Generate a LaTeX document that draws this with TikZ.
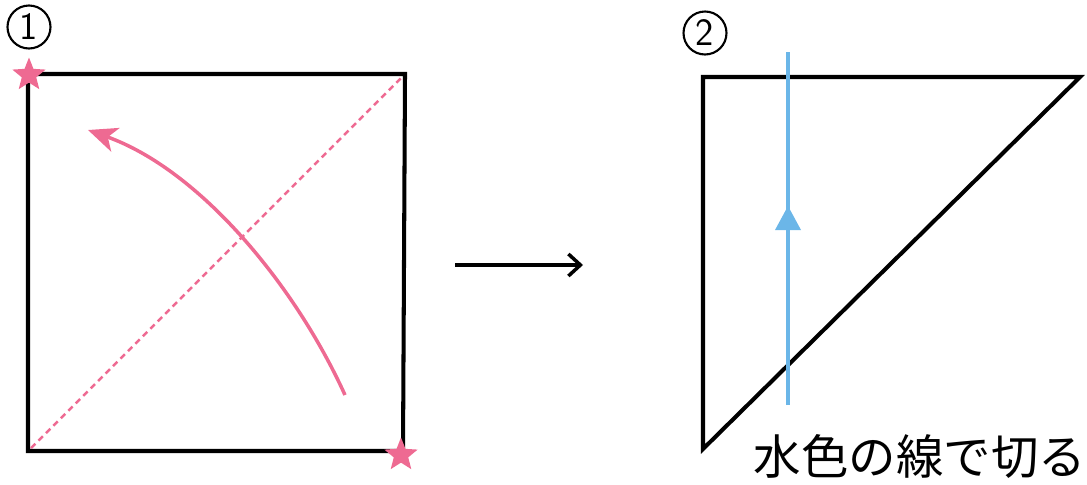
\documentclass[tikz,border=0pt]{standalone}
\usepackage{fontspec}
\newfontfamily\cjk{Noto Sans CJK JP}
\usetikzlibrary{arrows.meta,shapes.geometric}
\definecolor{pinkc}{HTML}{EE6A92}
\definecolor{bluec}{HTML}{6BB6E8}
\tikzset{
  edge/.style={line width=2.3pt, line join=miter},
  starmark/.style={star, star points=5, star point ratio=2.3, fill=pinkc, draw=none, minimum size=0.7cm, inner sep=0pt},
  circnum/.style={circle, draw, line width=1.2pt, minimum size=0.86cm, inner sep=0pt, font=\fontsize{22}{22}\selectfont\sffamily},
}
\begin{document}
\begin{tikzpicture}[x=0.02cm,y=-0.02cm]
\useasboundingbox (0,0) rectangle (1087,484);
% step 1
\node[circnum] (n1) at (29,27) {1};
\coordinate (a) at (28,74);
\coordinate (b) at (405,74);
\coordinate (c) at (403,451);
\coordinate (d) at (28,451);
\draw[edge] (a) -- (b) -- (c) -- (d) -- cycle;
\draw[pinkc, line width=1.4pt, dash pattern=on 3.5pt off 2.5pt] (31,448) -- (402,77);
\coordinate (cs) at (345,395);
\coordinate (ce) at (88,130);
\draw[pinkc, line width=2pt, -{Stealth[length=0.58cm,width=0.5cm,inset=0.16cm]}]
  (cs) .. controls (295,285) and (200,170) .. (ce);
\node[starmark] (s1) at (29,75) {};
\node[starmark] (s2) at (401,455) {};
% arrow
\coordinate (p) at (455,265);
\coordinate (q) at (583,265);
\draw[line width=2pt, -{Straight Barb[length=0.24cm,width=0.44cm,line width=2pt]}] (p) -- (q);
% step 2
\node[circnum] (n2) at (705,33) {2};
\coordinate (t1) at (703,77);
\coordinate (t2) at (1080,77);
\coordinate (t3) at (703,449);
\draw[edge] (t1) -- (t2) -- (t3) -- cycle;
\coordinate (bb) at (788,405);
\coordinate (bt) at (788,52);
\draw[bluec, line width=1.9pt] (bb) -- (bt);
\fill[bluec] (788,206) -- (801,230) -- (775,230) -- cycle;
\node[font=\cjk\fontsize{27}{27}\selectfont, anchor=base] (lbl) at (920,474) {水色の線で切る};
\end{tikzpicture}
\end{document}
